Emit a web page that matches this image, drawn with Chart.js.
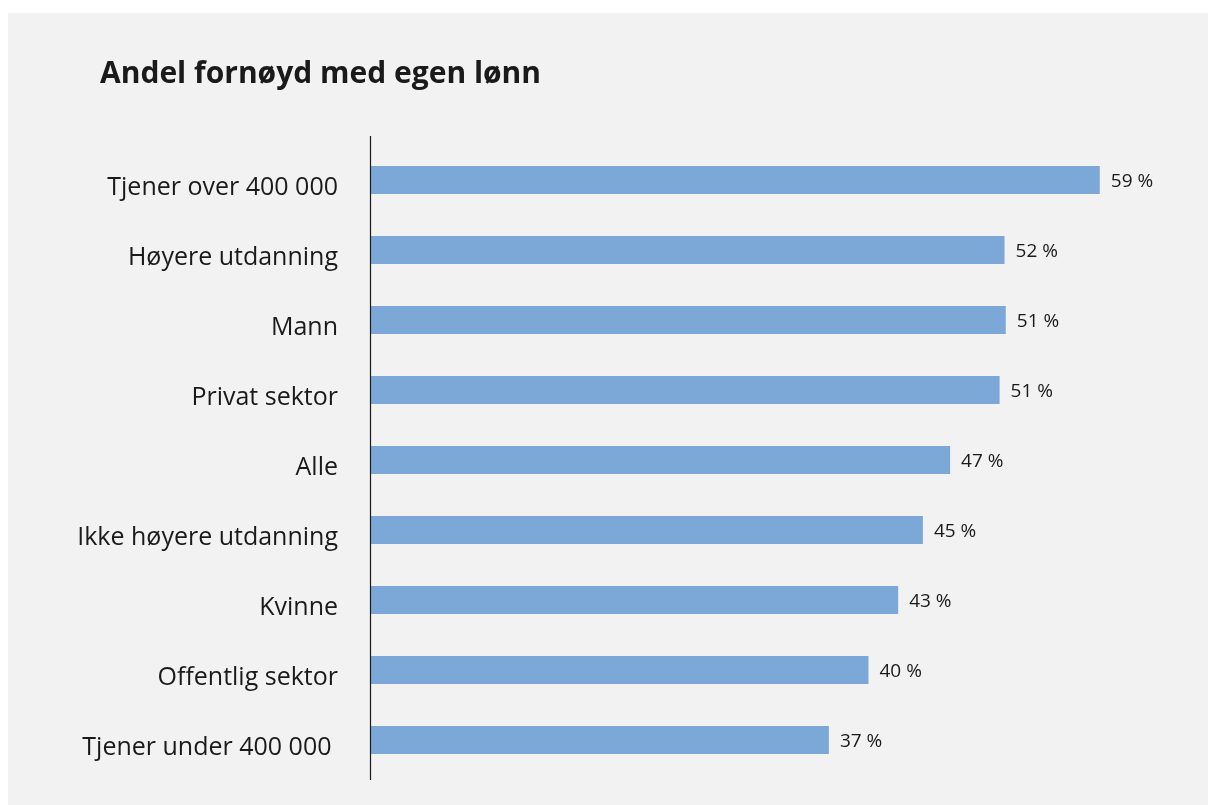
<!DOCTYPE html>
<html>
<head>
<meta charset="utf-8">
<script src="https://cdn.jsdelivr.net/npm/chart.js@4/dist/chart.umd.min.js"></script>
<style>
  html, body { margin: 0; padding: 0; background: #ffffff; }
  canvas { display: block; }
</style>
</head>
<body>
<canvas id="chart" width="1208" height="805"></canvas>
<script>
// Categories, top to bottom
const categories = [
    'Tjener over 400 000',
    'Høyere utdanning',
    'Mann',
    'Privat sektor',
    'Alle',
    'Ikke høyere utdanning',
    'Kvinne',
    'Offentlig sektor',
    'Tjener under 400 000 '
];
// Bar lengths (%)
const shares = [59, 51.3, 51.4, 50.9, 46.9, 44.7, 42.7, 40.3, 37.1];
// Printed value labels
const shareLabels = ['59 %', '52 %', '51 %', '51 %', '47 %', '45 %', '43 %', '40 %', '37 %'];

const chartTitle = 'Andel fornøyd med egen lønn';

// Grey panel behind the chart
const panelBackground = {
    id: 'panelBackground',
    beforeDraw(chart) {
        const ctx = chart.ctx;
        ctx.save();
        ctx.fillStyle = '#ffffff';
        ctx.fillRect(0, 0, chart.width, chart.height);
        ctx.fillStyle = '#f2f2f2';
        ctx.fillRect(8, 13, chart.width - 8, chart.height - 13);
        ctx.restore();
    }
};

// Title, axis line and value labels
const decorations = {
    id: 'decorations',
    afterDatasetsDraw(chart) {
        const ctx = chart.ctx;
        const area = chart.chartArea;
        ctx.save();

        // title
        ctx.fillStyle = '#1a1a1a';
        ctx.font = 'bold 30px "Open Sans"';
        ctx.textAlign = 'left';
        ctx.textBaseline = 'alphabetic';
        ctx.fillText(chartTitle, 100, 83);

        // vertical axis line
        ctx.strokeStyle = '#1a1a1a';
        ctx.lineWidth = 1.2;
        ctx.beginPath();
        ctx.moveTo(area.left + 0.5, area.top - 9);
        ctx.lineTo(area.left + 0.5, area.bottom + 5);
        ctx.stroke();

        // value labels
        ctx.font = '19px "Open Sans"';
        ctx.textBaseline = 'middle';
        chart.getDatasetMeta(0).data.forEach((bar, i) => {
            ctx.fillText(shareLabels[i], bar.x + 11, bar.y + 2);
        });
        ctx.restore();
    }
};

const ctx = document.getElementById('chart').getContext('2d');
new Chart(ctx, {
    type: 'bar',
    data: {
        labels: categories,
        datasets: [{
            data: shares,
            backgroundColor: '#7ba8d6',
            borderWidth: 0,
            barPercentage: 0.4,
            categoryPercentage: 1.0
        }]
    },
    options: {
        indexAxis: 'y',
        responsive: false,
        animation: false,
        layout: {
            padding: { left: 0, right: 34, top: 145, bottom: 30 }
        },
        plugins: {
            legend: { display: false },
            tooltip: { enabled: false },
            title: { display: false }
        },
        scales: {
            x: {
                display: false,
                min: 0,
                max: 65
            },
            y: {
                grid: { display: false, drawTicks: false },
                border: { display: false },
                afterFit: (scale) => {
                    scale.width = 370;
                    scale.paddingTop = 0;
                    scale.paddingBottom = 0;
                },
                ticks: {
                    color: '#1a1a1a',
                    padding: 32,
                    labelOffset: 8,
                    font: { family: 'Open Sans', size: 25 }
                }
            }
        }
    },
    plugins: [panelBackground, decorations]
});
</script>
</body>
</html>
